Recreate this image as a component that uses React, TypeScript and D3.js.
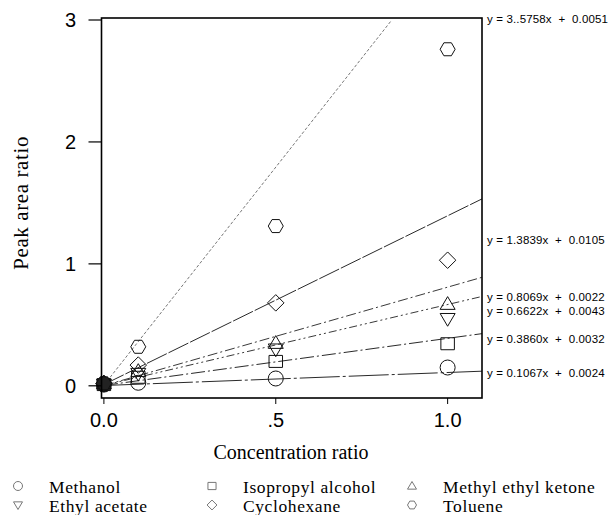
import React from 'react';
import * as d3 from 'd3';

// Concentration ratios at which each solvent was measured
const concentration = [0, 0.1, 0.5, 1.0];

const seriesNames = [
  'Methanol',
  'Isopropyl alcohol',
  'Methyl ethyl ketone',
  'Ethyl acetate',
  'Cyclohexane',
  'Toluene',
];

// Peak area ratios per solvent
const methanol = [0.01, 0.025, 0.06, 0.15];
const isopropylAlcohol = [0.01, 0.07, 0.2, 0.345];
const methylEthylKetone = [0.02, 0.12, 0.35, 0.67];
const ethylAcetate = [0.01, 0.1, 0.3, 0.55];
const cyclohexane = [0.02, 0.17, 0.68, 1.03];
const toluene = [0.02, 0.32, 1.31, 2.76];

// Linear fit coefficients (y = slope * x + intercept)
const slopes = [0.1067, 0.386, 0.8069, 0.6622, 1.3839, 3.5758];
const intercepts = [0.0024, 0.0032, 0.0022, 0.0043, 0.0105, 0.0051];
const equationLabels = [
  'y = 0.1067x  +  0.0024',
  'y = 0.3860x  +  0.0032',
  'y = 0.8069x  +  0.0022',
  'y = 0.6622x  +  0.0043',
  'y = 1.3839x  +  0.0105',
  'y = 3..5758x  +  0.0051',
];

const yTicks = [0, 1, 2, 3];
const yTickLabels = ['0', '1', '2', '3'];
const xTicks = [0, 0.5, 1.0];
const xTickLabels = ['0.0', '.5', '1.0'];

const seriesValues = [methanol, isopropylAlcohol, methylEthylKetone, ethylAcetate, cyclohexane, toluene];

type Shape = 'circle' | 'square' | 'triUp' | 'triDown' | 'diamond' | 'hexagon';
const shapes: Shape[] = ['circle', 'square', 'triUp', 'triDown', 'diamond', 'hexagon'];

const dashes = ['40 3 3 3', '14 3 2 3', '10 3 2 3', '8 3 2 3 2 3', '22 2', '3 2'];
const lineColors = ['#111', '#111', '#222', '#222', '#111', '#666'];

const W = 612;
const H = 515;
const plot = { left: 101.5, right: 482, top: 20, bottom: 398 };

const x = d3.scaleLinear().domain([-0.007, 1.1]).range([plot.left, plot.right]);
const y = d3.scaleLinear().domain([-0.1, 3.0]).range([plot.bottom, plot.top]);

function shapePath(shape: Shape, cx: number, cy: number, s: number): string {
  const p = d3.path();
  if (shape === 'circle') {
    p.arc(cx, cy, s, 0, Math.PI * 2);
    p.closePath();
  } else if (shape === 'square') {
    p.rect(cx - s * 0.9, cy - s * 0.8, s * 1.8, s * 1.6);
  } else if (shape === 'triUp') {
    p.moveTo(cx, cy - s);
    p.lineTo(cx + s, cy + s * 0.7);
    p.lineTo(cx - s, cy + s * 0.7);
    p.closePath();
  } else if (shape === 'triDown') {
    p.moveTo(cx, cy + s);
    p.lineTo(cx + s, cy - s * 0.7);
    p.lineTo(cx - s, cy - s * 0.7);
    p.closePath();
  } else if (shape === 'diamond') {
    p.moveTo(cx, cy - s * 1.1);
    p.lineTo(cx + s * 1.1, cy);
    p.lineTo(cx, cy + s * 1.1);
    p.lineTo(cx - s * 1.1, cy);
    p.closePath();
  } else {
    for (let i = 0; i < 6; i++) {
      const a = (Math.PI / 3) * i;
      const px = cx + s * Math.cos(a);
      const py = cy + s * Math.sin(a);
      if (i === 0) p.moveTo(px, py);
      else p.lineTo(px, py);
    }
    p.closePath();
  }
  return p.toString();
}

// Label placement beside the right axis, in data units
const labelAnchors = [0.105, 0.385, 0.73, 0.61, 1.2, 3.01];

const legendCols = [18, 212, 412];
const legendRows = [487, 506];

export default function App() {
  return (
    <svg
      width={W}
      height={H}
      style={{ position: 'absolute', left: 0, top: 0, background: '#fff' }}
      fontFamily="'Liberation Sans', Arial, sans-serif"
    >
      <defs>
        <clipPath id="plot-area">
          <rect x={plot.left} y={plot.top} width={plot.right - plot.left} height={plot.bottom - plot.top} />
        </clipPath>
      </defs>

      {/* Fit lines */}
      <g clipPath="url(#plot-area)">
        {slopes.map((m, i) => {
          const xs = [0, 1.1];
          const pts = xs.map((v) => m * v + intercepts[i]);
          const d = d3
            .line<number>()
            .x((_, k) => x(xs[k]))
            .y((v) => y(v))(pts);
          return (
            <path
              key={'fit' + i}
              d={d || ''}
              fill="none"
              stroke={lineColors[i]}
              strokeWidth={0.9}
              strokeDasharray={dashes[i]}
            />
          );
        })}
      </g>

      {/* Data markers */}
      {seriesValues.map((vals, i) => (
        <g key={'pts' + i}>
          {vals.map((v, j) => (
            <path
              key={j}
              d={shapePath(shapes[i], x(concentration[j]), y(v), 7.5)}
              fill={j === 0 ? '#222' : 'none'}
              stroke="#111"
              strokeWidth={1}
            />
          ))}
        </g>
      ))}

      {/* Frame */}
      <rect
        x={plot.left}
        y={plot.top - 2}
        width={plot.right - plot.left}
        height={plot.bottom - plot.top + 2}
        fill="none"
        stroke="#000"
        strokeWidth={1.6}
      />

      {/* Y axis ticks */}
      {yTicks.map((t, i) => (
        <g key={'yt' + i}>
          <line x1={plot.left - 13} x2={plot.left} y1={y(t)} y2={y(t)} stroke="#000" strokeWidth={1.2} />
          <text x={76} y={y(t)} dy="0.36em" textAnchor="end" fontSize={20}>
            {yTickLabels[i]}
          </text>
        </g>
      ))}

      {/* X axis ticks */}
      {xTicks.map((t, i) => (
        <g key={'xt' + i}>
          <line x1={x(t)} x2={x(t)} y1={plot.bottom} y2={plot.bottom + 6} stroke="#000" strokeWidth={1} />
          <text x={x(t)} y={427} textAnchor="middle" fontSize={20}>
            {xTickLabels[i]}
          </text>
        </g>
      ))}

      {/* Fit equations */}
      {equationLabels.map((lab, i) => (
        <text
          key={'eq' + i}
          x={487}
          y={y(labelAnchors[i])}
          dy="0.35em"
          fontSize={11.5}
          letterSpacing={0.15}
          style={{ whiteSpace: 'pre' }}
        >
          {lab}
        </text>
      ))}

      {/* Axis titles */}
      <text
        x={291}
        y={459}
        textAnchor="middle"
        fontSize={20}
        fontFamily="'Liberation Serif', 'Times New Roman', serif"
      >
        Concentration ratio
      </text>
      <text
        transform={`translate(28,${y(1.5)}) rotate(-90)`}
        textAnchor="middle"
        fontSize={21}
        letterSpacing={0.6}
        fontFamily="'Liberation Serif', 'Times New Roman', serif"
      >
        Peak area ratio
      </text>

      {/* Legend */}
      {seriesNames.map((name, i) => {
        const col = i % 3;
        const row = Math.floor(i / 3);
        const cx = legendCols[col];
        const cy = legendRows[row];
        return (
          <g key={'lg' + i}>
            <path d={shapePath(shapes[i], cx, cy - 1, 4.5)} fill="none" stroke="#777" strokeWidth={1} />
            <text
              x={cx + 31}
              y={cy}
              dy="0.33em"
              fontSize={17.5}
              letterSpacing={0.6}
              fontFamily="'Liberation Serif', 'Times New Roman', serif"
            >
              {name}
            </text>
          </g>
        );
      })}
    </svg>
  );
}
